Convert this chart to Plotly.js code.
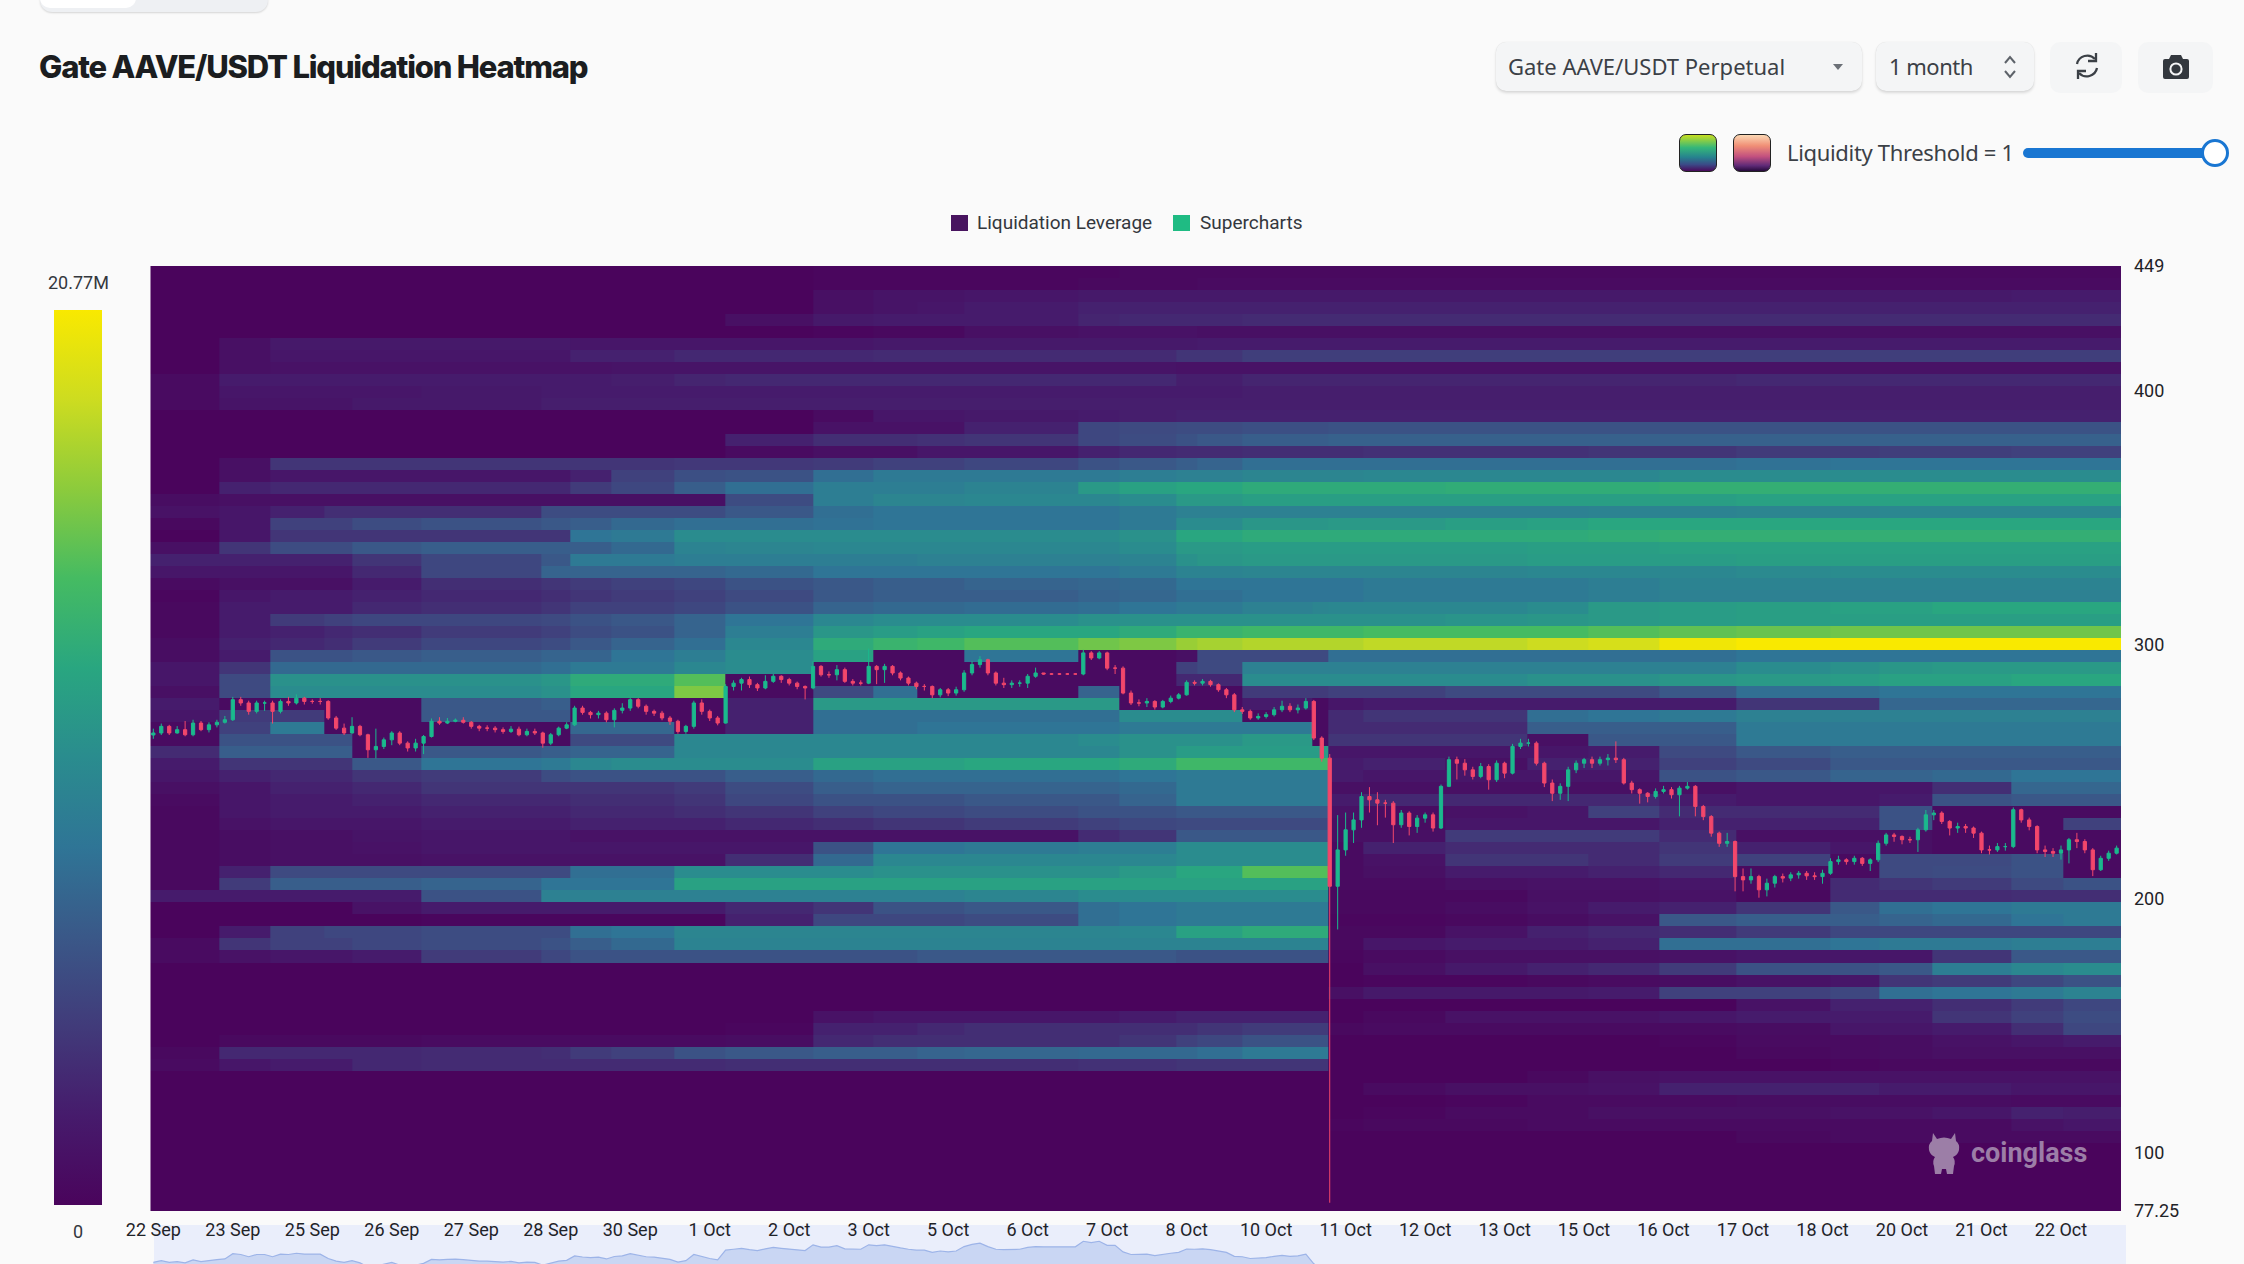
<!DOCTYPE html>
<html><head><meta charset="utf-8"><title>Gate AAVE/USDT Liquidation Heatmap</title>
<script src="https://cdn.plot.ly/plotly-3.0.1.min.js"></script>
<style>
html,body{margin:0;padding:0;background:#fafafa;width:2244px;height:1264px;overflow:hidden}
#chart{position:absolute;left:0;top:0;width:2244px;height:1264px}
.ui{position:absolute;box-sizing:border-box;font-family:"Noto Sans",sans-serif;color:#3b4046}
.box{background:#f4f5f6;border-radius:10px;box-shadow:0 2px 3px rgba(0,0,0,.13),0 0 1px rgba(0,0,0,.12)}
.flat{background:#f4f5f6;border-radius:10px}
.gtitle{letter-spacing:-1.2px}
</style></head><body>
<div id="chart"></div>
<div class="ui" style="left:40px;top:-14px;width:228px;height:26px;background:#eef0f3;border-radius:0 0 12px 12px;box-shadow:0 1px 2px rgba(0,0,0,.15)"><div style="width:96px;height:22px;background:#fff;border-radius:0 0 10px 10px"></div></div>
<div class="ui box" style="left:1496px;top:42px;width:366px;height:49px"></div>
<div class="ui" style="left:1508px;top:50px;font-size:22px;line-height:32px;white-space:nowrap">Gate AAVE/USDT Perpetual</div>
<svg class="ui" style="left:1832px;top:62px" width="12" height="10"><path d="M1 2H11L6 8Z" fill="#6b7077"/></svg>
<div class="ui box" style="left:1876px;top:42px;width:158px;height:49px"></div>
<div class="ui" style="left:1889px;top:50px;font-size:22px;line-height:32px;white-space:nowrap;letter-spacing:-.5px">1 month</div>
<svg class="ui" style="left:2001px;top:54px" width="18" height="26"><path d="M4 9L9 3L14 9M4 17L9 23L14 17" fill="none" stroke="#5e636a" stroke-width="2"/></svg>
<div class="ui flat" style="left:2050px;top:42px;width:72px;height:51px"></div>
<svg class="ui" style="left:2072px;top:51px" width="30" height="30" viewBox="0 0 30 30"><path d="M5 13A10.5 10.5 0 0 1 23 8M25 17A10.5 10.5 0 0 1 7 22" fill="none" stroke="#3b4046" stroke-width="2.3"/><path d="M24 2V10H16M6 28V20H14" fill="none" stroke="#3b4046" stroke-width="2.3"/></svg>
<div class="ui flat" style="left:2138px;top:42px;width:75px;height:51px"></div>
<svg class="ui" style="left:2162px;top:54px" width="28" height="26" viewBox="0 0 28 26"><path d="M9 1H19L21 5H25Q27 5 27 7V23Q27 25 25 25H3Q1 25 1 23V7Q1 5 3 5H7Z" fill="#33383e"/><circle cx="14" cy="15" r="5.6" fill="none" stroke="#f4f5f6" stroke-width="2"/></svg>
<div class="ui" style="left:1679px;top:134px;width:38px;height:38px;border-radius:7px;border:1px solid #222;background:linear-gradient(180deg,#c7de20 0%,#35b779 35%,#26828e 62%,#3b4a87 82%,#4a0a5c 100%)"></div>
<div class="ui" style="left:1733px;top:134px;width:38px;height:38px;border-radius:7px;border:1px solid #222;background:linear-gradient(180deg,#fbd8b4 0%,#f08f76 30%,#c2507f 60%,#5f2a77 85%,#260a3c 100%)"></div>
<div class="ui" style="left:1787px;top:136px;font-size:22px;line-height:32px;white-space:nowrap;letter-spacing:-.33px">Liquidity Threshold = 1</div>
<div class="ui" style="left:2023px;top:148px;width:195px;height:10px;background:#1976d2;border-radius:5px"></div>
<div class="ui" style="left:2201px;top:139px;width:28px;height:28px;background:#fff;border:3.5px solid #1976d2;border-radius:50%"></div>
<svg class="ui" style="left:1926px;top:1132px" width="36" height="44" viewBox="0 0 36 44"><path d="M7 1L11 7Q18 4 25 7L29 1L30 9Q34 12 33 18Q32 23 27 25Q30 29 28 34L27 42H21L20 37H16L15 42H9L8 34Q6 29 9 25Q4 23 3 18Q2 12 6 9Z" fill="#9c7ea7"/></svg>
<script>
/* ---------- axis text ---------- */
var dateLabels = ["22 Sep","23 Sep","25 Sep","26 Sep","27 Sep","28 Sep","30 Sep","1 Oct","2 Oct","3 Oct","5 Oct","6 Oct","7 Oct","8 Oct","10 Oct","11 Oct","12 Oct","13 Oct","15 Oct","16 Oct","17 Oct","18 Oct","20 Oct","21 Oct","22 Oct"];
var dateLabelCandles = [0,10,20,30,40,50,60,70,80,90,100,110,120,130,140,150,160,170,180,190,200,210,220,230,240];
var priceTicks = [449,400,300,200,100,77.25];

/* ---------- candles, 3h each ---------- */
var candleOpen = [264.5,265.3,267.9,265.3,266.6,264.6,269.2,266.6,268.5,269.5,
270.5,278.4,277.1,273.8,277.1,277.1,273.8,277.7,277.1,279,
277.7,277.7,277.7,271.2,267.2,265.3,267.9,264.6,258.7,260,
262.6,265.3,261.3,259.4,261.3,263.9,269.9,269.2,269.9,270.3,
269.5,267.9,267.2,267.2,266.6,265.9,266.8,264.6,265.9,265.3,
261.3,264.6,267.2,268.5,275.1,273.4,272.5,273.1,270.5,274.2,
275.1,278.4,275.8,273.8,273.1,271.2,269.9,265.9,267.9,277.1,
273.8,271.2,269.2,283.6,284.9,286.3,284.3,283,285.6,287.6,
286.3,284.9,283.6,283,291.5,288.2,288.2,290.2,285.6,284.9,
284.9,291.5,290.2,291.5,288.9,286.9,284.9,283.6,283.6,280.3,
282.3,281,282.3,288.9,292.2,294.1,288.9,284.9,284.3,284.9,
284.9,287.6,288.9,288.5,288.5,288.5,288.5,288.5,296.8,294.8,
296.8,290.8,290.8,281,277.1,277.1,277.7,275.5,277.7,279,
280.3,285.2,284.9,285.6,284.3,282.3,280.3,274.4,273.8,271.2,
271.8,272.5,274.4,275.8,274.4,275.1,277.7,263.3,255.4,205,
219.3,227.2,231.1,240.3,239,237.7,237.7,229.2,233.8,228.5,
231.8,233.1,227.9,244.3,254.8,253.4,250.8,248.2,252.1,246.9,
253.4,249.5,260,261.3,261.3,253.4,245.6,241.6,244.3,250.8,
253.4,254.8,253.4,254.8,255.4,254.8,245.6,243,241.6,240.3,
242.3,243,241,243.6,244.3,236.4,232.4,225.9,221.9,222.6,
208.8,207.5,208.8,203.6,206.2,208.8,208.2,209.5,210.1,209.1,
208.8,210.1,214.7,215.4,214.7,216,214,215.4,221.9,225.2,
224.6,223.3,223.3,227.2,233.1,233.8,230.5,227.9,228.5,227.9,
225.9,219.3,219.3,220.6,220.6,235.1,231.1,228.5,219.3,218.7,
218,219.3,223.3,222.6,219.3,211.5,216,218];
var candleClose = [265.3,267.9,265.3,266.6,264.6,269.2,266.6,268.5,269.5,270.5,
278.4,277.1,273.8,277.1,277.1,273.8,277.7,277.1,279,277.7,
277.7,277.7,271.2,267.2,265.3,267.9,264.6,258.7,260,262.6,
265.3,261.3,259.4,261.3,263.9,269.9,269.2,269.9,270.3,269.5,
267.9,267.2,267.2,266.6,265.9,266.8,264.6,265.9,265.3,261.3,
264.6,267.2,268.5,275.1,273.4,272.5,273.1,270.5,274.2,275.1,
278.4,275.8,273.8,273.1,271.2,269.9,265.9,267.9,277.1,273.8,
271.2,269.2,283.6,284.9,286.3,284.3,283,285.6,287.6,286.3,
284.9,283.6,283,291.5,288.2,288.2,290.2,285.6,284.9,284.9,
291.5,290.2,291.5,288.9,286.9,284.9,283.6,283.6,280.3,282.3,
281,282.3,288.9,292.2,294.1,288.9,284.9,284.3,284.9,284.9,
287.6,288.9,288.5,288.5,288.5,288.5,288.5,296.8,294.8,296.8,
290.8,290.8,281,277.1,277.1,277.7,275.5,277.7,279,280.3,
285.2,284.9,285.6,284.3,282.3,280.3,274.4,273.8,271.2,271.8,
272.5,274.4,275.8,274.4,275.1,277.7,263.3,255.4,205,219.3,
227.2,231.1,240.3,239,237.7,237.7,229.2,233.8,228.5,231.8,
233.1,227.9,244.3,254.8,253.4,250.8,248.2,252.1,246.9,253.4,
249.5,260,261.3,261.3,253.4,245.6,241.6,244.3,250.8,253.4,
254.8,253.4,254.8,255.4,254.8,245.6,243,241.6,240.3,242.3,
243,241,243.6,244.3,236.4,232.4,225.9,221.9,222.6,208.8,
207.5,208.8,203.6,206.2,208.8,208.2,209.5,210.1,209.1,208.8,
210.1,214.7,215.4,214.7,216,214,215.4,221.9,225.2,224.6,
223.3,223.3,227.2,233.1,233.8,230.5,227.9,228.5,227.9,225.9,
219.3,219.3,220.6,220.6,235.1,231.1,228.5,219.3,218.7,218,
219.3,223.3,222.6,219.3,211.5,216,218,220];
var candleHigh = [267,269,268.5,268,270,270.5,270,269.5,270.5,272,
279.5,279.5,278,278,278,278,278.5,279.5,280.5,279.5,
278.5,279,278.2,272,269,271.5,268.5,265,267,263.5,
266,266,262,263,264.5,271,271.5,271.2,271,271.5,
270,268.5,268.3,268,267.5,268,267.8,267,267,265.8,
265.3,267.8,269.5,276,276,274,274,273.8,275,277,
279,279,276.5,274.5,274,272,270.5,268.5,278,278.5,
274.5,272,284.5,286,287,287.5,285,288,288.5,288,
287,285.5,284,293.5,292,289.5,292,291,286.5,286,
298.5,292,292.5,292,289.5,287.5,285.5,284.5,284,283,
283,283.5,290,293.5,295.5,294.5,289.5,287,286,286,
288.5,291,288.8,288.8,288.8,288.8,288.8,298,297.5,297.5,
297.3,292,291.5,282,278.5,279,278.2,278.3,280,281,
286,286,286.5,286.2,284.8,283,281,275.5,274.5,273,
273.5,275.5,278,277,276.5,279,278.3,264,257,233,
234,234,242,244,242,239,238.5,235,234.5,233,
234,234,245,256,256,255,252,253.5,253,254.5,
254,261,263,263,262,254,247,245.5,252,254.5,
255.5,256,256,257,262,255.5,246.5,243.5,242,243.5,
244.5,244,244.5,246,244.8,237,233,226.5,226,223,
212,212,209.5,208,209.5,210,210.5,211,211,210.5,
211.5,216,217,216,217,216.5,216,223,226,226,
225,224.5,228,235,235,234.5,231,230,229.5,228.5,
226.5,221,222,222,236,235.5,232,229,221,220,
221,224,226,223.5,220,217,219,221];
var candleLow = [263,264.5,264.5,265,264,264,266,265.5,267.5,269,
270,276,272.5,273,274,269,273,276,276.5,276.5,
276.8,276.5,270.5,266.5,264.5,265,264,255.5,255.3,259,
260.5,260.5,258,258,257,263.5,268.5,268.8,269.5,269,
267,266,266,265.5,265,265.3,264,264,264.5,259.5,
260.5,264,266.8,268,272.5,271,271,269.5,267.5,273,
274,275,272.5,272,270.3,268.5,265,265,267,272.5,
270,268.3,269,282,282,283,281.8,282.5,285,285,
284,282.5,278.5,282.5,287.5,287,286,285,284,284,
284.5,284.5,285,288,286,284,282.5,282,279,279.3,
279.8,280,281.5,288,291,288,284,283,283,283.5,
283,287,288.2,288.2,288.2,288.2,288.2,288,294,294.3,
290,288.5,280.5,276.3,275.8,275.5,274.5,275,277,278.5,
280,284,284,283.5,281.5,279,273.5,272.8,270.5,270.5,
271,271.8,273.5,273.5,273,274.5,262.5,254,80.5,188,
217,222,228,234,229,232,222,228,225,226,
230,226.5,227.5,244,247,248.5,247,247.5,243,246,
247.5,249,259,260,252.5,244,238.5,239,238.5,249.5,
251.5,251.5,252.5,252.5,253.5,245,241.5,237.5,238,239.5,
241.5,239.5,232.5,243,232.5,231,224.5,220.5,220.5,203,
203,206,200.5,201,204.5,206.5,207,208,207.5,207.5,
206,209.5,213.5,213.5,213.5,213,211,214.5,221,222.5,
221.5,222,218.5,226.5,231,229.5,225,226,226,224,
218,217.5,218.5,219,220,230,227,218,216.5,216.5,
215.5,214,220,218,209,211,215,217.5];

/* ---------- heatmap: level (% of 20.77M) per price row, top row first ---------- */
var heatColumnEdges = [-0.38,8.3,14.7,21.5,25,33.7,48.8,52.5,57.6,65.5,72,83,90.6,96.1,102,116.4,121.5,128.7,131.4,137,145.8,147.8,152.2,162.5,172.8,180.5,189.5,199.1,211,217.1,223.8,233.8,240.3,247.55];
var rowTop = 446.64, rowStep = -4.724;
var liquidationLevels = [
[0,0,0,0,0,0,0,0,0,0,0,1,1,1,1,1,2,2,2,2,2,2,2,2,2,2,2,2,2,2,2,2,2],
[0,0,0,0,0,0,0,0,0,0,0,1,1,1,1,2,2,2,3,3,3,3,3,3,3,3,3,3,3,3,3,3,3],
[0,0,0,0,0,0,0,0,0,0,0,5,7,7,8,9,9,9,9,9,9,9,9,9,9,9,9,9,9,9,9,10,10],
[0,0,0,0,0,0,0,0,0,0,0,5,7,8,10,12,12,12,12,12,12,12,12,12,12,12,12,12,12,12,12,12,12],
[0,0,0,0,0,0,0,0,0,0,5,9,10,10,10,13,14,14,14,15,15,15,15,15,15,15,15,15,15,15,15,15,15],
[0,0,0,0,0,0,0,0,0,0,0,1,2,2,5,6,6,6,5,5,5,5,5,5,5,5,5,5,5,5,5,5,5],
[0,5,9,9,9,9,9,8,8,8,8,8,9,9,9,9,9,9,10,10,10,10,10,10,10,10,10,10,10,10,10,10,10],
[0,5,8,8,8,8,8,12,12,14,14,14,15,15,15,15,15,18,18,21,21,21,21,21,21,21,21,21,21,21,21,21,21],
[0,5,6,6,6,6,6,6,7,7,7,7,7,7,7,7,7,6,6,6,6,6,6,6,6,6,6,6,6,6,6,6,6],
[3,10,10,10,10,10,10,10,11,13,14,14,14,14,14,14,14,11,11,13,13,13,13,13,13,13,13,14,14,14,14,14,14],
[3,8,8,8,8,9,10,10,10,10,10,10,10,10,10,10,10,10,10,11,11,11,11,11,11,11,11,11,11,11,11,11,11],
[3,7,7,7,9,9,11,11,11,11,11,11,11,11,11,11,11,11,11,11,11,11,11,11,11,11,11,11,11,11,11,11,11],
[0,0,0,0,0,0,0,0,0,0,0,3,8,8,9,10,11,12,12,12,12,12,12,12,12,12,12,12,12,12,12,12,12],
[0,0,0,0,0,0,0,0,0,0,0,6,6,6,12,24,25,26,26,27,27,28,28,28,28,28,28,28,28,28,28,28,28],
[0,0,0,0,0,0,0,0,0,0,12,16,16,17,18,24,26,28,30,32,32,33,33,33,33,33,33,33,33,33,33,33,33],
[0,0,0,0,0,0,0,0,0,0,3,5,5,8,8,12,14,15,15,16,16,16,17,17,17,18,18,20,20,21,21,22,22],
[0,5,18,18,18,18,18,18,18,19,19,20,22,22,24,28,30,32,34,38,38,38,38,38,38,38,38,39,40,40,40,40,40],
[0,5,8,8,8,8,8,12,22,27,28,38,42,42,42,42,44,45,45,47,47,47,48,48,48,48,50,50,50,50,50,50,50],
[0,12,14,14,14,14,14,20,24,32,38,44,44,44,46,55,58,60,60,62,62,62,62,63,63,63,64,64,64,64,64,64,64],
[4,5,5,5,5,5,5,5,5,5,26,44,47,47,48,48,50,55,55,57,57,57,57,57,57,57,57,58,58,58,58,58,58],
[6,8,12,16,16,16,26,26,26,26,30,38,40,40,40,40,42,45,45,45,45,45,45,45,45,46,46,47,47,48,48,48,48],
[2,8,22,22,26,28,30,32,36,38,38,39,40,40,40,40,42,50,50,54,54,55,55,57,58,60,60,60,60,60,60,60,60],
[0,8,18,18,18,18,18,40,42,50,50,50,50,50,50,50,52,60,60,62,62,62,62,62,62,63,64,64,64,64,64,64,64],
[5,18,26,26,30,32,32,32,36,46,47,48,48,48,48,48,50,55,55,56,56,56,56,56,57,57,58,58,58,58,58,58,58],
[12,12,12,12,18,24,30,42,42,44,44,44,44,45,45,45,46,52,54,55,55,55,55,55,56,56,56,57,57,57,57,57,57],
[8,8,8,8,14,24,34,34,34,34,36,40,40,40,40,40,42,46,46,47,47,47,47,47,48,48,48,49,50,50,50,50,50],
[3,5,5,5,10,16,18,20,22,24,28,30,32,32,34,35,36,40,40,40,40,40,42,42,42,44,46,46,46,46,46,46,46],
[1,8,10,10,12,14,16,18,20,22,25,30,32,32,32,34,35,38,38,40,40,40,42,42,42,44,45,45,45,45,45,45,45],
[2,10,10,10,14,16,18,22,22,24,28,34,36,36,37,38,40,42,42,45,47,48,48,48,50,55,56,57,58,58,60,60,60],
[2,10,20,22,24,24,25,28,30,34,40,48,50,50,50,52,52,52,52,52,52,52,52,53,54,55,56,57,57,57,57,57,57],
[2,10,12,14,16,20,22,26,28,34,44,54,56,58,60,60,62,66,66,68,68,68,70,70,70,72,74,75,76,76,76,76,76],
[4,12,14,16,20,24,26,30,34,38,48,62,66,68,72,76,78,82,84,86,86,86,88,88,90,92,98,100,100,100,100,100,100],
[4,10,28,28,30,32,34,34,40,44,50,58,3,3,40,3,3,5,25,25,25,38,38,38,38,38,38,40,40,40,40,40,40],
[8,18,36,36,36,36,38,42,42,48,50,3,3,3,3,3,3,22,25,45,45,45,45,45,45,45,45,50,52,54,55,55,55],
[8,25,52,52,52,52,54,62,62,72,3,3,3,3,3,3,3,14,14,50,50,50,50,50,52,52,54,55,56,58,58,60,60],
[5,25,50,50,50,50,52,60,60,78,3,25,38,3,3,34,3,3,3,20,20,22,22,25,25,25,30,38,38,40,40,40,40],
[10,3,3,3,3,30,32,3,3,3,12,55,55,55,55,55,3,3,3,10,3,8,10,10,10,10,10,18,18,35,35,35,35],
[8,20,20,3,3,30,30,3,3,3,12,38,38,38,38,38,50,50,50,3,3,15,18,18,38,40,42,45,45,45,45,45,45],
[3,22,42,3,3,3,3,35,35,3,12,38,38,40,40,40,42,42,42,42,3,15,15,15,32,32,32,42,42,42,42,42,42],
[3,28,28,28,3,3,3,25,25,48,48,48,48,48,48,50,52,52,52,55,3,18,18,18,5,30,30,42,42,42,42,42,42],
[15,32,32,32,3,30,32,34,34,48,48,48,48,48,48,48,52,56,56,56,56,8,8,8,8,10,25,30,32,32,32,32,32],
[10,18,18,18,30,40,42,48,50,50,50,58,58,58,60,60,62,68,68,68,68,10,12,5,12,12,22,25,30,30,30,30,30],
[8,12,14,14,18,20,26,28,28,28,32,36,38,38,38,38,40,42,42,42,42,10,8,8,8,8,28,30,34,34,36,40,40],
[5,8,12,12,14,18,18,18,18,20,26,32,34,34,34,34,36,42,42,42,42,5,5,5,5,5,5,8,8,8,16,35,35],
[3,8,10,10,12,14,14,16,16,18,24,28,28,28,30,30,34,42,42,42,42,10,14,14,14,14,10,8,8,10,28,30,30],
[2,8,10,10,10,12,12,14,14,16,18,22,24,24,26,28,28,30,30,30,30,6,4,6,8,22,15,15,15,28,3,3,3],
[2,6,8,8,8,10,10,12,12,12,14,16,18,18,20,22,24,25,25,25,25,5,4,8,8,8,12,12,12,28,3,3,22],
[2,4,5,5,7,8,8,6,6,6,6,6,6,6,6,15,18,30,30,30,30,5,5,20,20,20,15,5,5,5,3,3,3],
[2,4,5,5,6,8,8,8,8,8,8,28,40,40,42,44,44,50,50,50,50,3,12,15,15,15,18,12,8,5,3,3,3],
[2,4,5,5,5,6,6,6,6,6,16,36,48,48,48,48,48,50,50,50,50,3,6,18,18,15,20,22,3,25,25,28,3],
[2,12,25,25,25,25,25,38,38,50,50,50,52,52,52,52,55,60,60,72,72,3,5,10,10,12,14,3,3,25,26,28,3],
[2,20,32,32,32,34,40,40,40,58,58,58,58,58,58,58,58,58,58,58,58,3,3,5,6,6,8,3,15,18,20,25,28],
[10,10,10,10,10,28,45,45,45,45,45,45,45,45,47,50,50,50,50,50,50,2,2,2,5,5,6,2,15,15,15,16,16],
[0,0,0,0,6,10,10,10,10,10,14,18,28,28,30,38,40,42,42,42,42,2,2,4,6,10,12,18,30,38,40,42,42],
[0,0,0,0,0,1,1,1,1,1,12,24,24,24,26,38,40,42,42,42,42,1,1,2,4,6,30,32,32,34,36,40,42],
[0,10,22,24,24,26,26,38,40,47,47,47,47,47,47,47,48,58,58,62,62,2,2,6,12,14,16,20,24,24,24,24,24],
[3,18,22,22,24,26,28,32,36,46,46,46,46,46,46,46,46,46,46,46,46,2,8,10,10,12,38,38,40,42,42,44,44],
[3,6,8,8,10,20,24,28,28,28,28,28,28,30,30,30,30,28,28,28,28,1,3,5,5,5,6,8,8,8,18,30,30],
[0,0,0,0,0,0,0,0,0,0,0,0,0,0,0,0,0,0,0,0,0,0,5,9,12,14,20,28,28,30,44,48,50],
[0,0,0,0,0,0,0,0,0,0,0,0,0,0,0,0,0,0,0,0,0,0,1,1,2,3,4,6,8,18,20,24,28],
[0,0,0,0,0,0,0,0,0,0,0,0,0,0,0,0,0,0,0,0,0,5,9,9,9,10,22,22,24,38,40,42,46],
[0,0,0,0,0,0,0,0,0,0,0,0,0,0,0,0,0,0,0,0,0,0,0,0,0,0,0,6,12,12,16,20,24],
[0,0,0,0,0,0,0,0,0,0,0,6,8,8,8,8,10,12,12,12,12,0,2,6,6,6,8,10,10,10,18,22,26],
[0,0,0,0,0,0,0,0,0,0,1,12,12,14,16,16,16,16,18,20,20,2,3,3,3,3,3,4,8,8,10,16,24],
[0,2,2,2,2,3,3,3,3,3,4,14,16,16,16,16,18,22,24,28,28,0,0,0,0,0,1,3,3,4,6,8,10],
[2,14,14,14,14,15,16,20,22,28,30,32,32,34,35,36,36,36,38,42,42,0,0,0,0,0,0,2,3,4,5,5,5],
[3,8,10,10,14,15,15,15,15,15,16,16,16,16,16,17,17,18,18,18,18,0,0,0,0,0,0,0,1,2,2,2,2],
[0,0,0,0,0,0,0,0,0,0,0,0,0,0,0,0,0,0,0,0,0,0,0,0,2,5,6,6,6,6,6,6,6],
[0,0,0,0,0,0,0,0,0,0,0,0,0,0,0,0,0,0,0,0,0,0,3,5,5,6,12,12,12,10,10,8,8],
[0,0,0,0,0,0,0,0,0,0,0,0,0,0,0,0,0,0,0,0,0,0,0,1,3,3,3,4,4,4,4,3,3],
[0,0,0,0,0,0,0,0,0,0,0,0,0,0,0,0,0,0,0,0,0,0,1,3,3,5,5,5,6,6,8,12,11],
[0,0,0,0,0,0,0,0,0,0,0,0,0,0,0,0,0,0,0,0,0,1,2,2,3,3,3,3,3,3,3,6,8],
[0,0,0,0,0,0,0,0,0,0,0,0,0,0,0,0,0,0,0,0,0,0,0,0,0,0,0,2,3,3,3,3,3],
[0,0,0,0,0,0,0,0,0,0,0,0,0,0,0,0,0,0,0,0,0,0,0,0,0,0,0,0,0,0,0,0,0],
[0,0,0,0,0,0,0,0,0,0,0,0,0,0,0,0,0,0,0,0,0,0,0,0,0,0,0,0,0,0,0,0,0],
[0,0,0,0,0,0,0,0,0,0,0,0,0,0,0,0,0,0,0,0,0,0,0,0,0,0,0,0,0,0,0,0,0],
[0,0,0,0,0,0,0,0,0,0,0,0,0,0,0,0,0,0,0,0,0,0,0,0,0,0,0,0,0,0,0,0,0],
[0,0,0,0,0,0,0,0,0,0,0,0,0,0,0,0,0,0,0,0,0,0,0,0,0,0,0,0,0,0,0,0,0],
[0,0,0,0,0,0,0,0,0,0,0,0,0,0,0,0,0,0,0,0,0,0,0,0,0,0,0,0,0,0,0,0,0]
];
var heatColors = [[0,"#4a045c"],[0.1,"#461b6c"],[0.2,"#413b7a"],[0.3,"#3a5888"],[0.4,"#2f7596"],[0.5,"#2a8c8e"],[0.6,"#29a680"],[0.7,"#45bb62"],[0.8,"#8ccb3c"],[0.9,"#cddc20"],[1,"#f9e900"]];

/* ---------- page geometry in px, turned into paper fractions ---------- */
var W = 2244, H = 1264;
function fx(px){return px/W;} function fy(py){return (H-py)/H;}
var plotL=150.3, plotR=2121, plotT=266, plotB=1211;

var traces = [
 {type:"heatmap", name:"Liquidation Leverage", x:heatColumnEdges, y0:rowTop, dy:rowStep, z:liquidationLevels,
  zmin:0, zmax:100, zsmooth:false, colorscale:heatColors, hoverinfo:"skip",
  colorbar:{x:fx(54), xanchor:"left", xref:"paper", y:fy(310), yanchor:"top", yref:"paper", thickness:48, thicknessmode:"pixels",
    len:895, lenmode:"pixels", xpad:0, ypad:0, outlinewidth:0, borderwidth:0, ticks:"", showticklabels:false}},
 {type:"candlestick", name:"Supercharts", x:candleClose.map(function(v,i){return i;}), open:candleOpen, high:candleHigh, low:candleLow, close:candleClose,
  increasing:{line:{color:"#1bb98d",width:1}, fillcolor:"#1bb98d"},
  decreasing:{line:{color:"#f2476b",width:1}, fillcolor:"#f2476b"},
  whiskerwidth:0, hoverinfo:"skip", showlegend:false},
 {type:"scatter", mode:"lines", x:candleClose.map(function(v,i){return i;}), y:candleClose, xaxis:"x", yaxis:"y2",
  line:{color:"#9db4e8",width:1.2}, fill:"tozeroy", fillcolor:"#c9d6f3", hoverinfo:"skip", showlegend:false}
];

var layout = {
 width:W, height:H, margin:{l:0,r:0,t:0,b:0,autoexpand:false}, paper_bgcolor:"#fafafa", plot_bgcolor:"rgba(0,0,0,0)", showlegend:false, boxgap:0.42,
 font:{family:"Roboto, sans-serif", color:"#1f2328"},
 title:{text:"Gate AAVE/USDT Liquidation Heatmap", x:fx(39), xanchor:"left", xref:"container", y:fy(67), yanchor:"middle", yref:"container",
   font:{family:"Inter, sans-serif", size:31, weight:800, color:"#1b1d20"}},
 xaxis:{domain:[fx(plotL),fx(plotR)], range:[-0.38,247.55], tickmode:"array", tickvals:dateLabelCandles, ticktext:dateLabels,
   tickangle:0, showgrid:false, zeroline:false, ticks:"", showline:false, tickfont:{size:18,family:"Roboto, sans-serif",color:"#1f2328"}, anchor:"y", ticklabelstandoff:6, rangeslider:{visible:false}, fixedrange:true},
 yaxis:{domain:[fy(plotB),fy(plotT)], range:[77.25,449], side:"right", tickmode:"array", tickvals:priceTicks, ticktext:priceTicks.map(String),
   showgrid:false, zeroline:false, ticks:"", showline:false, tickfont:{size:18,family:"Roboto, sans-serif",color:"#1f2328"}, anchor:"x", ticklabelstandoff:12, fixedrange:true},
 yaxis2:{domain:[0,fy(1225)], range:[263,321], visible:false, anchor:"x", fixedrange:true},
 shapes:[
  {type:"rect", xref:"paper", yref:"paper", x0:fx(154), x1:fx(2126), y0:0, y1:fy(1225), fillcolor:"#eaeefb", line:{width:0}, layer:"below"},
  {type:"rect", xref:"paper", yref:"paper", x0:fx(951), x1:fx(968), y0:fy(231), y1:fy(215), fillcolor:"#48145f", line:{width:0}},
  {type:"rect", xref:"paper", yref:"paper", x0:fx(1173), x1:fx(1190), y0:fy(231), y1:fy(215), fillcolor:"#1fbb83", line:{width:0}}
 ],
 annotations:[
  {text:"Liquidation Leverage", xref:"paper", yref:"paper", x:fx(975), y:fy(222), xanchor:"left", yanchor:"middle", showarrow:false, font:{size:19,family:"Roboto, sans-serif",color:"#33373d"}},
  {text:"Supercharts", xref:"paper", yref:"paper", x:fx(1198), y:fy(222), xanchor:"left", yanchor:"middle", showarrow:false, font:{size:19,family:"Roboto, sans-serif",color:"#33373d"}},
  {text:"20.77M", xref:"paper", yref:"paper", x:fx(78), y:fy(283), xanchor:"center", yanchor:"middle", showarrow:false, font:{size:18,family:"Roboto, sans-serif",color:"#33373d"}},
  {text:"0", xref:"paper", yref:"paper", x:fx(78), y:fy(1231), xanchor:"center", yanchor:"middle", showarrow:false, font:{size:18,family:"Roboto, sans-serif",color:"#33373d"}},
  {text:"coinglass", xref:"paper", yref:"paper", x:fx(2029), y:fy(1153), xanchor:"center", yanchor:"middle", showarrow:false, font:{size:27,weight:700,family:"Roboto, sans-serif",color:"#9c7ea7"}}
 ]
};
Plotly.newPlot("chart", traces, layout, {displayModeBar:false, staticPlot:true});
</script>
</body></html>
